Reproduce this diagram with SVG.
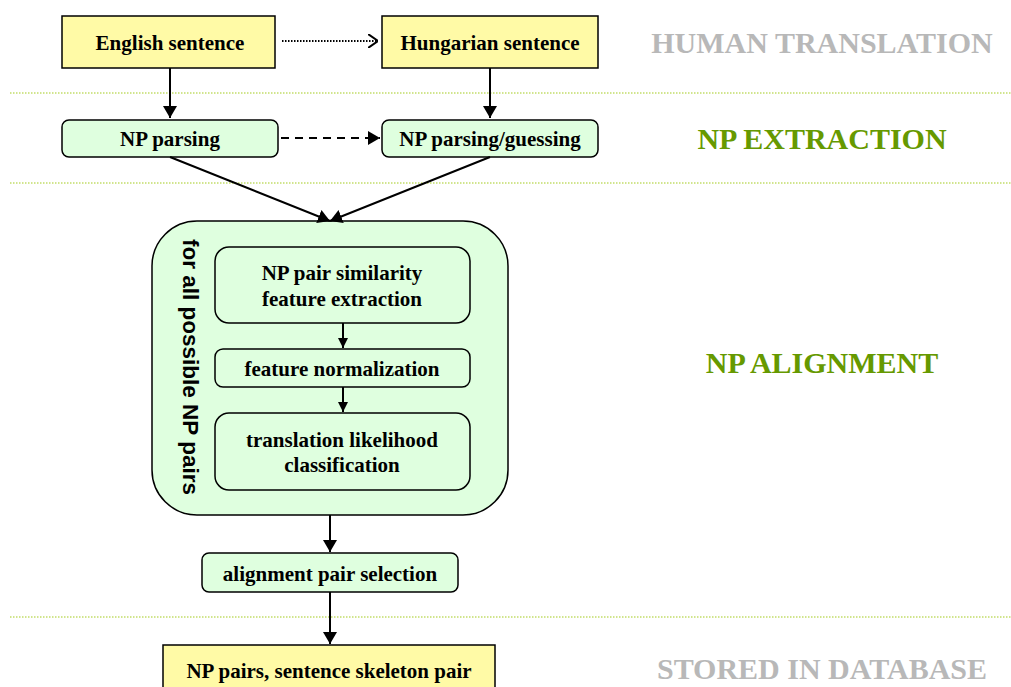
<svg xmlns="http://www.w3.org/2000/svg" width="1011" height="687" viewBox="0 0 1011 687">
<defs>
<style>
.y{fill:#fffaa6;stroke:#000;stroke-width:1.5}
.g{fill:#dfffdf;stroke:#000;stroke-width:1.5}
.t{font-family:"Liberation Serif",serif;font-weight:bold;font-size:21px;fill:#000;text-anchor:middle}
.lab{font-family:"Liberation Serif",serif;font-weight:bold;font-size:30px;text-anchor:middle}
.sep{stroke:#a4cc1c;stroke-width:1.2;stroke-dasharray:1.5 1.5}
.c{stroke:#000;stroke-width:2;fill:none}
</style>
<marker id="ah" viewBox="0 0 10 10" refX="10" refY="5" markerWidth="10" markerHeight="10" markerUnits="userSpaceOnUse" orient="auto"><path d="M0,0 L10,5 L0,10 z" fill="#000"/></marker>
<marker id="ab" viewBox="0 0 12 14" refX="12" refY="7" markerWidth="12" markerHeight="14" markerUnits="userSpaceOnUse" orient="auto"><path d="M0,0 L12,7 L0,14 z" fill="#000"/></marker>
<marker id="ao" viewBox="0 0 10 14" refX="10" refY="7" markerWidth="10" markerHeight="14" markerUnits="userSpaceOnUse" orient="auto"><path d="M0,0 L10,7 L0,14" fill="none" stroke="#000" stroke-width="2"/></marker>
</defs>
<rect width="1011" height="687" fill="#fff"/>
<g id="separators">
<line class="sep" x1="10" y1="93" x2="1011" y2="93"/>
<line class="sep" x1="10" y1="183" x2="1011" y2="183"/>
<line class="sep" x1="10" y1="617" x2="1011" y2="617"/>
</g>
<g id="labels">
<text class="lab" x="822" y="53" fill="#b8b8b8">HUMAN TRANSLATION</text>
<text class="lab" x="822" y="149" fill="#669900">NP EXTRACTION</text>
<text class="lab" x="822" y="373" fill="#669900">NP ALIGNMENT</text>
<text class="lab" x="822" y="679" fill="#b8b8b8">STORED IN DATABASE</text>
</g>
<g id="loop">
<rect class="g" x="152" y="221" width="356" height="294" rx="45"/>
<text x="190" y="367" transform="rotate(90 190 367)" text-anchor="middle" dominant-baseline="central" font-family="'Liberation Sans',sans-serif" font-weight="bold" font-size="22.5">for all possible NP pairs</text>
</g>
<g id="english"><rect class="y" x="62" y="16" width="213" height="52"/><text class="t" x="170" y="50">English sentence</text></g>
<g id="hungarian"><rect class="y" x="382" y="16" width="216" height="52"/><text class="t" x="490" y="50">Hungarian sentence</text></g>
<g id="npparse"><rect class="g" x="62" y="120" width="216" height="37" rx="7"/><text class="t" x="170" y="146">NP parsing</text></g>
<g id="npguess"><rect class="g" x="382" y="120" width="216" height="37" rx="7"/><text class="t" x="490" y="146">NP parsing/guessing</text></g>
<g id="simil"><rect class="g" x="215" y="247" width="255" height="76" rx="14"/><text class="t" x="342" y="280">NP pair similarity</text><text class="t" x="342" y="306">feature extraction</text></g>
<g id="norm"><rect class="g" x="215" y="349" width="255" height="38" rx="8"/><text class="t" x="342" y="376">feature normalization</text></g>
<g id="classif"><rect class="g" x="215" y="413" width="255" height="77" rx="14"/><text class="t" x="342" y="447">translation likelihood</text><text class="t" x="342" y="472">classification</text></g>
<g id="select"><rect class="g" x="202" y="553" width="256" height="39" rx="7"/><text class="t" x="330" y="581">alignment pair selection</text></g>
<g id="stored"><rect class="y" x="163" y="645" width="332" height="50"/><text class="t" x="329" y="678">NP pairs, sentence skeleton pair</text></g>
<g id="connectors">
<line class="c" x1="282" y1="41" x2="378" y2="41" stroke-dasharray="1.5 1.5" stroke-width="1.5" marker-end="url(#ao)"/>
<line class="c" x1="170" y1="68" x2="170" y2="118" marker-end="url(#ab)"/>
<line class="c" x1="490" y1="68" x2="490" y2="118" marker-end="url(#ab)"/>
<line class="c" x1="281" y1="138" x2="380" y2="138" stroke-dasharray="8 6" marker-end="url(#ab)"/>
<line class="c" x1="170" y1="157" x2="330" y2="221" marker-end="url(#ab)"/>
<line class="c" x1="490" y1="157" x2="330" y2="221" marker-end="url(#ab)"/>
<line class="c" x1="343" y1="323" x2="343" y2="348" marker-end="url(#ah)"/>
<line class="c" x1="343" y1="387" x2="343" y2="412" marker-end="url(#ah)"/>
<line class="c" x1="330" y1="515" x2="330" y2="552" marker-end="url(#ab)"/>
<line class="c" x1="330" y1="592" x2="330" y2="644" marker-end="url(#ab)"/>
</g>
</svg>
